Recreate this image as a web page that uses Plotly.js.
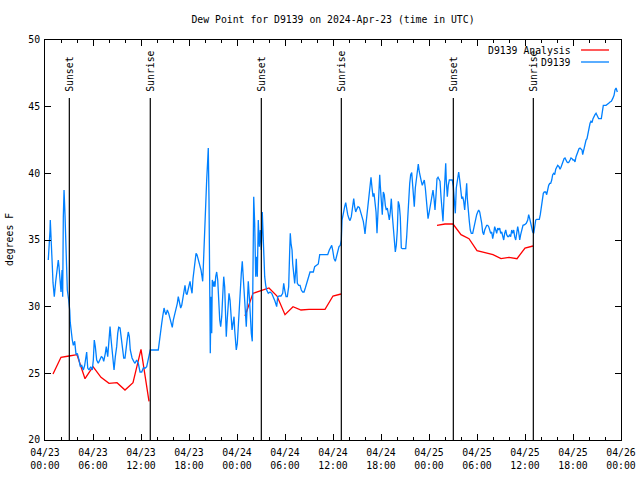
<!DOCTYPE html>
<html>
<head>
<meta charset="utf-8">
<script src="https://cdn.plot.ly/plotly-3.0.1.min.js"></script>
<style>html,body{margin:0;padding:0;background:#fff;}#chart{width:640px;height:480px;}</style>
</head>
<body>
<div id="chart"></div>
<script>
// Hours after 2024-04-23 00:00 UTC
const blueHours = [0.41,0.5,0.63,0.66,0.75,0.84,0.91,1.0,1.16,1.34,1.46,1.59,1.66,1.75,1.88,2.0,2.13,2.21,2.29,2.38,2.5,2.63,2.79,2.96,3.09,3.16,3.29,3.41,3.54,3.71,3.88,4.04,4.25,4.41,4.59,4.79,4.96,5.09,5.21,5.34,5.5,5.71,5.91,6.04,6.16,6.29,6.46,6.66,6.88,7.04,7.19,7.34,7.54,7.66,7.84,7.96,8.13,8.25,8.41,8.63,8.79,8.96,9.09,9.21,9.38,9.54,9.71,9.84,10.0,10.13,10.29,10.41,10.54,10.66,10.88,11.09,11.25,11.46,11.66,11.88,12.09,12.29,12.54,12.71,12.88,13.04,13.16,14.16,
14.29,14.41,14.59,14.71,14.88,15.0,15.13,15.29,15.46,15.63,15.79,15.91,16.04,16.21,16.38,16.54,16.66,16.84,16.96,17.09,17.25,17.38,17.5,17.63,17.75,17.88,18.0,18.13,18.25,18.38,18.5,18.63,18.75,18.88,19.0,19.13,19.25,19.38,19.5,19.63,19.71,19.79,19.88,19.96,20.09,20.21,20.34,20.41,20.5,20.59,20.66,20.75,20.84,20.91,21.0,21.09,21.16,21.25,21.34,21.46,21.59,21.71,21.84,21.96,22.09,22.21,22.34,22.46,22.59,22.66,22.75,22.88,23.0,23.13,23.25,23.38,23.5,23.63,23.71,23.79,23.91,24.04,24.16,24.29,24.41,24.54,24.66,24.79,24.91,25.04,25.16,25.29,25.41,25.54,25.66,25.79,25.91,26.0,26.09,26.21,26.34,26.46,26.54,26.66,26.79,26.91,27.04,27.16,27.25,27.34,27.46,27.59,27.71,27.91,28.13,28.34,28.54,28.75,28.96,29.09,29.29,29.5,29.71,29.84,29.96,30.13,30.29,30.46,30.59,30.66,30.75,30.88,30.96,31.09,31.21,31.34,31.41,31.54,31.71,31.88,32.04,32.21,32.38,32.54,32.71,32.91,33.13,33.34,33.54,33.71,33.96,34.16,34.34,34.5,34.88,35.34,35.54,35.71,35.84,35.96,36.13,36.29,36.41,36.59,36.75,36.91,
37.04,37.13,37.29,37.46,37.59,37.71,37.84,38.0,38.13,38.29,38.46,38.59,38.71,38.84,38.96,39.13,39.29,39.46,39.63,39.79,39.91,40.0,40.13,40.25,40.38,40.5,40.63,40.75,40.88,41.0,41.13,41.25,41.38,41.5,41.63,41.75,41.84,41.91,42.04,42.16,42.29,42.41,42.54,42.66,42.79,42.91,43.04,43.16,43.29,43.41,43.54,43.66,43.79,43.91,44.04,44.16,44.29,44.41,44.54,44.66,45.09,45.21,45.34,45.46,45.59,45.71,45.84,45.96,46.04,46.16,46.29,46.41,46.54,46.66,46.79,46.91,47.04,47.16,47.29,47.41,47.54,47.66,47.79,47.88,48.0,48.13,48.25,48.38,48.5,48.63,48.75,48.88,49.0,49.13,49.25,49.38,49.5,49.63,49.75,49.88,50.0,50.09,50.16,50.29,50.41,50.54,50.75,50.91,51.04,51.16,51.29,51.41,51.59,51.71,51.84,51.96,52.09,52.21,52.34,52.46,52.59,52.71,52.79,52.91,53.04,53.16,53.29,53.46,53.59,53.71,53.84,53.96,54.09,54.21,54.34,54.46,54.59,54.71,54.84,54.96,55.09,55.21,55.34,55.46,55.59,55.71,55.84,55.96,56.09,56.21,56.34,56.46,56.59,56.71,56.84,56.96,57.09,57.21,57.34,57.46,57.59,57.71,57.84,57.96,58.09,58.21,58.34,58.46,58.59,58.71,58.84,58.96,59.09,59.21,59.34,59.46,59.63,59.75,59.96,60.16,60.34,60.46,60.59,60.71,60.84,60.96,
61.09,61.21,61.34,61.46,61.79,61.91,62.04,62.16,62.29,62.41,62.59,62.71,62.84,62.96,63.09,63.21,63.34,63.46,63.59,63.71,63.84,63.96,64.09,64.25,64.38,64.5,64.63,64.75,64.88,65.0,65.13,65.25,65.38,65.5,65.63,65.75,65.88,66.0,66.13,66.25,66.38,66.5,66.63,66.75,66.88,67.0,67.13,67.21,67.29,67.38,67.5,67.63,67.75,67.88,68.0,68.13,68.25,68.38,68.5,68.63,68.75,68.88,69.04,69.21,69.54,69.66,69.79,70.13,70.29,70.46,70.63,70.79,70.96,71.13,71.25,71.38,71.46,71.54];

const blueValues = [33.5,34.25,35.75,36.5,35.4,35.0,33.1,31.8,30.75,31.9,32.5,33.1,33.5,33.0,31.8,31.1,32.75,30.75,36.75,38.75,36.9,33.3,31.25,30.5,29.75,28.8,28.0,27.5,27.1,27.4,26.4,26.5,26.0,25.5,25.6,25.25,25.6,26.25,26.6,25.4,25.25,25.5,25.25,26.0,27.5,27.0,26.0,25.75,26.0,26.25,26.2,25.9,26.5,27.0,26.25,27.0,28.5,27.6,26.5,25.25,26.25,27.0,28.0,28.45,28.4,27.5,27.0,26.15,26.15,27.0,27.6,28.1,27.75,26.75,26.15,25.9,25.75,26.0,25.75,25.1,25.1,25.4,25.4,25.5,25.9,26.4,26.75,26.75,
27.5,28.0,28.75,29.25,29.9,29.6,29.4,29.75,29.5,29.1,28.75,28.45,29.0,29.4,29.75,30.25,30.75,30.25,29.9,30.1,30.6,31.25,31.6,31.0,30.9,31.25,31.75,31.9,31.4,31.0,32.1,32.75,33.4,34.0,33.9,33.6,33.4,33.1,32.75,32.25,31.9,33.0,34.5,36.25,38.0,39.5,41.0,41.9,38.0,30.25,26.5,30.75,28.0,32.0,31.75,31.5,31.9,31.5,32.25,32.6,32.0,30.25,29.0,28.5,29.25,30.75,32.25,31.5,29.75,27.75,28.75,30.25,31.0,30.5,29.25,28.25,28.75,29.25,28.25,27.5,26.75,27.25,28.75,29.75,31.0,32.5,33.4,32.25,30.75,29.75,28.5,30.25,31.9,30.75,29.25,28.0,27.4,33.25,38.25,36.25,32.25,33.75,32.25,36.5,34.5,35.75,34.25,37.1,35.75,33.5,32.25,31.6,31.25,31.0,31.1,31.0,30.75,30.4,30.0,30.75,30.8,30.8,31.0,31.75,31.25,30.75,30.75,31.5,34.25,35.5,34.75,34.25,33.25,32.25,31.75,32.75,33.6,31.75,31.6,31.6,31.25,31.1,31.1,31.4,31.75,32.1,32.6,32.6,32.6,33.0,33.1,33.2,33.9,33.9,33.9,33.9,34.25,34.5,34.6,34.25,33.6,33.4,33.75,34.1,34.5,34.6,
35.0,36.5,37.1,37.5,37.8,37.25,36.9,36.6,36.45,36.75,37.6,38.1,37.5,37.1,37.3,37.5,37.45,37.1,36.75,36.4,35.9,35.45,36.25,36.9,37.6,38.5,39.1,39.7,38.9,38.25,38.5,37.9,37.1,35.5,37.25,38.75,39.9,39.1,37.75,36.9,38.6,38.4,37.6,37.25,37.4,36.75,36.5,37.1,38.1,36.9,36.0,35.25,34.1,34.6,35.75,37.9,37.6,36.75,34.4,34.35,34.35,35.25,36.75,38.5,39.25,39.9,40.05,39.1,38.0,37.5,38.9,39.5,40.4,40.7,40.1,39.6,39.4,39.1,39.25,39.5,38.9,38.1,37.25,36.6,37.0,37.5,37.75,38.25,38.75,38.1,37.25,38.4,39.6,39.7,39.6,39.4,38.25,37.4,36.4,38.25,40.0,40.75,39.5,38.25,39.1,39.5,39.5,39.5,39.0,38.25,37.0,38.9,39.75,40.1,39.5,38.75,38.1,38.25,37.9,37.25,38.4,39.25,38.1,37.0,36.4,35.75,35.5,35.5,35.9,36.1,36.6,36.9,37.1,37.25,37.1,36.75,36.25,35.6,35.4,35.75,36.0,36.1,36.1,36.0,35.75,35.5,35.6,35.1,35.5,36.0,35.75,35.5,35.9,35.75,35.9,35.5,35.6,35.25,35.0,35.5,35.75,35.4,35.25,35.25,35.4,35.25,35.75,35.5,35.75,35.25,35.0,35.5,36.0,35.6,35.0,35.4,35.75,36.1,36.15,36.25,36.5,36.9,36.6,36.25,35.9,35.6,
35.5,36.0,36.5,36.55,36.55,36.9,37.5,38.1,38.5,38.6,38.6,38.4,38.9,39.1,39.25,39.25,39.5,39.9,40.0,39.9,40.3,40.5,40.6,40.5,40.3,40.45,40.7,41.0,41.1,41.15,40.9,40.85,40.8,40.85,41.0,41.15,41.1,41.0,41.0,40.85,41.25,41.5,41.75,41.85,41.9,41.85,41.75,41.4,41.6,41.95,42.25,42.5,42.6,43.0,43.5,43.75,43.9,43.8,44.1,44.3,44.4,44.5,44.25,44.1,44.1,44.6,45.1,45.1,45.15,45.25,45.35,45.4,45.6,45.85,46.25,46.4,46.25,46.1];

const redHours = [1,2,3,4,5,6,7,8,9,10,11,12,13,19,25,26,27,28,29,30,31,32,33,34,35,36,37,43,49,50,51,52,53,54,55,56,57,58,59,60,61];
const redValues = [24.95,26.2,26.3,26.4,24.6,25.5,24.7,24.25,24.3,23.75,24.3,26.8,22.9,null,29.3,31.0,31.2,31.4,30.8,29.4,30.0,29.75,29.8,29.8,29.8,30.8,30.95,null,36.1,36.2,36.2,35.4,35.1,34.2,34.05,33.9,33.6,33.7,33.6,34.4,34.55];

const eventHours = [3.04, 13.16, 27.04, 37.04, 51.04, 61.04];
const eventLabels = ['Sunset','Sunrise','Sunset','Sunrise','Sunset','Sunrise'];
const eventLineTop = 45.65;

const seriesNames = ['D9139 Analysis', 'D9139'];
const seriesColors = ['#ff0000', '#0080ff'];

function hToDate(h){
  const d = new Date(Date.UTC(2024,3,23) + Math.round(h*3600000));
  return d.toISOString().replace('T',' ').slice(0,19);
}

const FONT = 'DejaVu Sans Mono, monospace';
const FS = 9.8;

const traces = [
  {x: redHours.map(hToDate), y: redValues, type:'scatter', mode:'lines', name: seriesNames[0],
   line:{color: seriesColors[0], width:1.3}, connectgaps:false},
  {x: blueHours.map(hToDate), y: blueValues, type:'scatter', mode:'lines', name: seriesNames[1],
   line:{color: seriesColors[1], width:1.3}}
];

const shapes = eventHours.map(h => ({type:'line', xref:'x', yref:'y', x0:hToDate(h), x1:hToDate(h), y0:20, y1:eventLineTop, line:{color:'#000', width:1.2}}));
const annotations = eventHours.map((h,i) => ({xref:'x', yref:'y', x:hToDate(h), y:eventLineTop, text:eventLabels[i], textangle:-90, showarrow:false, xanchor:'center', yanchor:'bottom', yshift:4, font:{family:FONT, size:FS, color:'#000'}}));

// custom legend (text left of line sample)
const legY = [0.975, 0.945];
seriesNames.forEach((n,i) => {
  annotations.push({xref:'paper', yref:'paper', x:0.917, y:legY[i], text:n, showarrow:false, xanchor:'right', yanchor:'middle', font:{family:FONT, size:FS, color:'#000'}});
  shapes.push({type:'line', xref:'paper', yref:'paper', x0:0.9306, x1:0.9792, y0:legY[i], y1:legY[i], line:{color:seriesColors[i], width:1.3}});
});
annotations.push({xref:'paper', yref:'paper', x:-0.0625, y:0.5, text:'degrees F', textangle:-90, showarrow:false, xanchor:'center', yanchor:'middle', font:{family:FONT, size:FS, color:'#000'}});

const layout = {
  width:640, height:480,
  margin:{l:45, r:19, t:40, b:40},
  paper_bgcolor:'#fff', plot_bgcolor:'#fff',
  showlegend:false,
  font:{family:FONT, size:FS, color:'#000'},
  title:{text:'Dew Point for D9139 on 2024-Apr-23 (time in UTC)', x:0.5, xref:'paper', xanchor:'center', y:1-20/480, yanchor:'middle', font:{family:FONT, size:FS, color:'#000'}},
  xaxis:{type:'date', range:[hToDate(0), hToDate(72)], tickformat:'%m/%d<br>%H:%M', dtick:6*3600000, tick0:hToDate(0),
         showgrid:false, zeroline:false, showline:true, linecolor:'#000', linewidth:1, mirror:'allticks',
         ticks:'inside', ticklen:6, tickcolor:'#000', ticklabelstandoff:3, tickfont:{family:FONT, size:FS, color:'#000'},
         minor:{dtick:2*3600000, ticks:'inside', ticklen:3, tickcolor:'#000', showgrid:false}},
  yaxis:{range:[20,50], dtick:5, showgrid:false, zeroline:false, showline:true, linecolor:'#000', linewidth:1, mirror:'allticks',
         ticks:'inside', ticklen:6, tickcolor:'#000', ticklabelstandoff:2, tickfont:{family:FONT, size:FS, color:'#000'}},
  shapes: shapes,
  annotations: annotations
};

Plotly.newPlot('chart', traces, layout, {displayModeBar:false, staticPlot:true});
</script>
</body>
</html>
